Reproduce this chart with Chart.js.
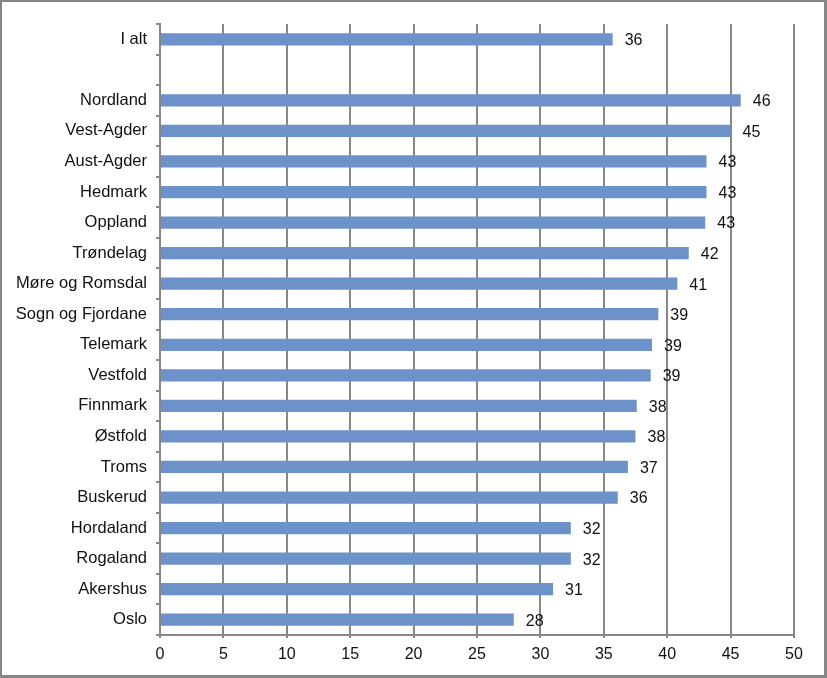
<!DOCTYPE html>
<html>
<head>
<meta charset="utf-8">
<script src="https://cdn.jsdelivr.net/npm/chart.js@4.4.0/dist/chart.umd.min.js"></script>
<style>
  html, body { margin: 0; padding: 0; background: #fff; }
  #wrap { position: relative; width: 827px; height: 678px; }
  #frame { position: absolute; left: 0; top: 0; width: 822px; height: 673px; border: 2px solid #868686; border-right-width: 3px; border-bottom-width: 3px; pointer-events: none; }
  canvas { position: absolute; left: 0; top: 0; }
</style>
</head>
<body>
<div id="wrap">
  <canvas id="c" width="827" height="678"></canvas>
  <div id="frame"></div>
</div>
<script>
const categories = ["I alt", "", "Nordland", "Vest-Agder", "Aust-Agder", "Hedmark", "Oppland", "Trøndelag",
  "Møre og Romsdal", "Sogn og Fjordane", "Telemark", "Vestfold", "Finnmark", "Østfold", "Troms",
  "Buskerud", "Hordaland", "Rogaland", "Akershus", "Oslo"];
const values = [35.7, null, 45.8, 45.0, 43.1, 43.1, 43.0, 41.7, 40.8, 39.3, 38.8, 38.7, 37.6, 37.5, 36.9,
  36.1, 32.4, 32.4, 31.0, 27.9];
const valueLabels = ["36", "", "46", "45", "43", "43", "43", "42", "41", "39", "39", "39", "38", "38", "37",
  "36", "32", "32", "31", "28"];
const xTicks = [0, 5, 10, 15, 20, 25, 30, 35, 40, 45, 50];

const FONT = "'Liberation Sans', Arial, sans-serif";
const GRID = '#878787';

const barLabels = {
  id: 'barLabels',
  afterDatasetsDraw(chart) {
    const ctx = chart.ctx;
    const meta = chart.getDatasetMeta(0);
    ctx.save();
    ctx.font = '16px ' + FONT;
    ctx.fillStyle = '#111';
    ctx.textAlign = 'left';
    ctx.textBaseline = 'middle';
    meta.data.forEach((bar, i) => {
      if (values[i] == null) return;
      ctx.fillText(valueLabels[i], bar.x + 12, bar.y + 1.5);
    });
    ctx.restore();
  }
};

new Chart(document.getElementById('c'), {
  type: 'bar',
  data: {
    labels: categories,
    datasets: [{
      data: values,
      backgroundColor: '#6D92CA',
      borderWidth: 0,
      barPercentage: 0.8,
      categoryPercentage: 0.5
    }]
  },
  options: {
    indexAxis: 'y',
    responsive: false,
    animation: false,
    layout: { padding: { left: 0, right: 33, top: 24, bottom: 0 } },
    plugins: { legend: { display: false }, tooltip: { enabled: false } },
    scales: {
      x: {
        min: 0, max: 50,
        afterBuildTicks(s) { s.ticks = xTicks.map(v => ({ value: v })); },
        afterFit(s) { s.height = 43; },
        grid: { color: GRID, lineWidth: 2, drawTicks: true, tickLength: 3, tickColor: GRID },
        border: { color: GRID, width: 2 },
        ticks: { color: '#111', font: { family: FONT, size: 16 }, padding: 7, maxRotation: 0 }
      },
      y: {
        afterFit(s) { s.width = 160; },
        grid: { offset: true, drawOnChartArea: false, drawTicks: true, tickLength: 4, color: GRID, lineWidth: 2 },
        border: { color: GRID, width: 2 },
        ticks: { color: '#111', font: { family: FONT, size: 16.5 }, padding: 9, autoSkip: false }
      }
    }
  },
  plugins: [barLabels]
});
</script>
</body>
</html>
